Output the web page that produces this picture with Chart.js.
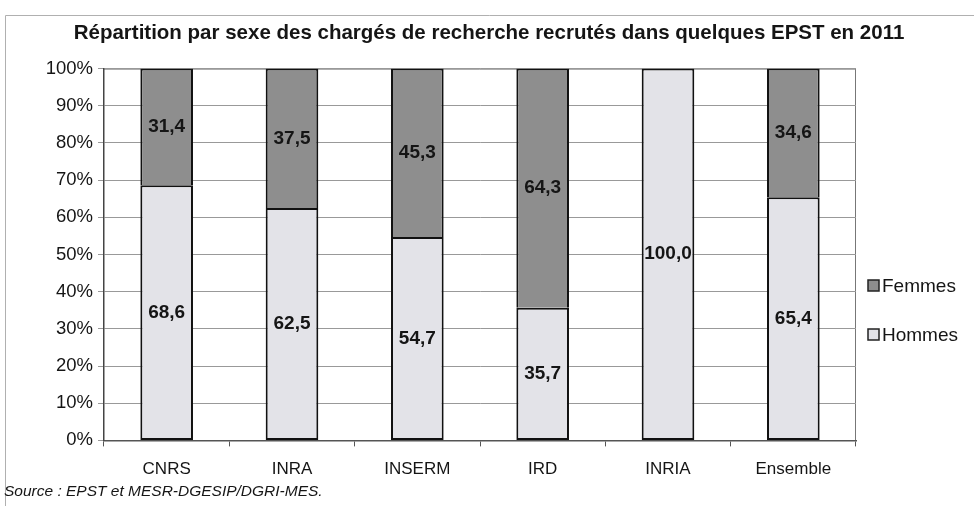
<!DOCTYPE html>
<html>
<head>
<meta charset="utf-8">
<script src="https://cdn.jsdelivr.net/npm/chart.js@4.4.0/dist/chart.umd.min.js"></script>
<style>
  html, body { margin: 0; padding: 0; background: #fff; }
  #wrap { width: 974px; height: 506px; }
</style>
</head>
<body>
<div id="wrap"><canvas id="chart" width="974" height="506"></canvas></div>
<script>
"use strict";

const categories = ['CNRS', 'INRA', 'INSERM', 'IRD', 'INRIA', 'Ensemble'];
const hommes = [68.6, 62.5, 54.7, 35.7, 100.0, 65.4];
const femmes = [31.4, 37.5, 45.3, 64.3, 0, 34.6];
const y_ticks = [0, 10, 20, 30, 40, 50, 60, 70, 80, 90, 100];

const dark_grey = '#8e8e8e';
const light_grey = '#e3e3e8';
const font_family = 'Arial, "Liberation Sans", sans-serif';

// outer frame (top and left) plus box around the plot area
const frame_plugin = {
  id: 'frame',
  beforeDraw(chart) {
    const ctx = chart.ctx;
    const area = chart.chartArea;
    ctx.save();
    ctx.strokeStyle = '#b0b0b0';
    ctx.lineWidth = 1;
    ctx.beginPath();
    ctx.moveTo(974, 15.5);
    ctx.lineTo(5.5, 15.5);
    ctx.lineTo(5.5, 506);
    ctx.stroke();
    ctx.strokeStyle = '#777';
    ctx.beginPath();
    ctx.moveTo(area.left, area.top + 0.5);
    ctx.lineTo(area.right - 0.5, area.top + 0.5);
    ctx.lineTo(area.right - 0.5, area.bottom);
    ctx.stroke();
    ctx.restore();
  }
};

// values written inside each segment
const value_labels = {
  id: 'value_labels',
  afterDatasetsDraw(chart) {
    const ctx = chart.ctx;
    ctx.save();
    ctx.font = 'bold 19px ' + font_family;
    ctx.fillStyle = '#151515';
    ctx.textAlign = 'center';
    ctx.textBaseline = 'middle';
    chart.data.datasets.forEach((ds, di) => {
      const meta = chart.getDatasetMeta(di);
      meta.data.forEach((bar, i) => {
        const v = ds.data[i];
        if (!v) return;
        const y = (bar.y + bar.base) / 2;
        ctx.fillText(v.toFixed(1).replace('.', ','), bar.x, y);
      });
    });
    ctx.restore();
  }
};

// legend at the right, Femmes on top
const side_legend = {
  id: 'side_legend',
  afterDraw(chart) {
    const ctx = chart.ctx;
    const x = chart.chartArea.right + 12;
    const items = [chart.data.datasets[1], chart.data.datasets[0]];
    const ys = [286, 335];
    ctx.save();
    ctx.font = '19px ' + font_family;
    ctx.textBaseline = 'middle';
    items.forEach((ds, i) => {
      ctx.fillStyle = ds.backgroundColor;
      ctx.fillRect(x, ys[i] - 6, 11, 11);
      ctx.strokeStyle = '#222';
      ctx.lineWidth = 1.5;
      ctx.strokeRect(x, ys[i] - 6, 11, 11);
      ctx.fillStyle = '#151515';
      ctx.fillText(ds.label, x + 14, ys[i] + 1);
    });
    ctx.restore();
  }
};

new Chart(document.getElementById('chart'), {
  type: 'bar',
  data: {
    labels: categories,
    datasets: [
      {
        label: 'Hommes',
        data: hommes,
        backgroundColor: light_grey,
        borderColor: '#111',
        borderWidth: 2,
        borderSkipped: false,
        categoryPercentage: 1,
        barPercentage: 0.42,
      },
      {
        label: 'Femmes',
        data: femmes,
        backgroundColor: dark_grey,
        borderColor: '#111',
        borderWidth: 2,
        borderSkipped: 'bottom',
        categoryPercentage: 1,
        barPercentage: 0.42,
      },
    ],
  },
  options: {
    responsive: false,
    animation: false,
    layout: { padding: { left: 4, right: 0, top: 0, bottom: 5 } },
    plugins: {
      legend: { display: false },
      tooltip: { enabled: false },
      title: {
        display: true,
        text: 'Répartition par sexe des chargés de recherche recrutés dans quelques EPST en 2011',
        font: { family: font_family, size: 20.5, weight: 'bold' },
        color: '#151515',
        padding: { top: 21, bottom: 23 },
      },
      subtitle: {
        display: true,
        position: 'bottom',
        align: 'start',
        text: 'Source : EPST et MESR-DGESIP/DGRI-MES.',
        font: { family: font_family, size: 15.5, style: 'italic' },
        color: '#151515',
        padding: { top: 0, bottom: 0 },
      },
    },
    scales: {
      x: {
        stacked: true,
        afterFit(scale) { scale.height = 42; },
        grid: { display: true, drawOnChartArea: false, offset: true, color: '#555', tickLength: 6 },
        border: { color: '#555', width: 1.5 },
        ticks: {
          color: '#151515',
          font: { family: font_family, size: 17 },
          padding: 13,
        },
      },
      y: {
        stacked: true,
        min: 0,
        max: 100,
        afterFit(scale) { scale.width = 100; },
        afterBuildTicks(scale) { scale.ticks = y_ticks.map(v => ({ value: v })); },
        grid: { color: '#999', tickLength: 6 },
        border: { color: '#444', width: 1.5 },
        ticks: {
          color: '#151515',
          font: { family: font_family, size: 18.5 },
          callback: v => v + '%',
          padding: 5,
        },
      },
      // empty axis on the right, only reserves room for the legend
      legend_space: {
        type: 'linear',
        position: 'right',
        display: true,
        afterFit(scale) { scale.width = 118; },
        grid: { display: false },
        border: { display: false },
        ticks: { display: false },
      },
    },
  },
  plugins: [frame_plugin, value_labels, side_legend],
});
</script>
</body>
</html>
